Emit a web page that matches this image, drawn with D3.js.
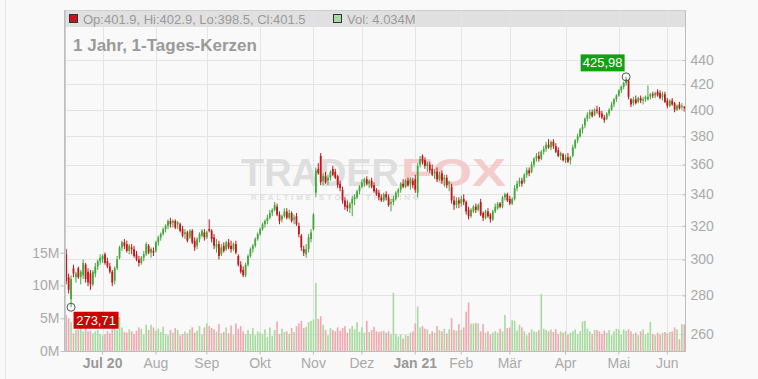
<!DOCTYPE html>
<html>
<head>
<meta charset="utf-8">
<script src="https://cdn.jsdelivr.net/npm/d3@7"></script>
<style>
  html, body { margin: 0; padding: 0; background: #f9f9f9; }
  svg { display: block; font-family: "Liberation Sans", Arial, Helvetica, sans-serif; }
</style>
</head>
<body>
<svg id="chart" width="758" height="379"></svg>
<script>
// ---- Trading calendar (one candle per trading day) ----
const firstDay = "2020-06-10";
const lastDay = "2021-06-10";
const holidays = ["2020-07-03", "2020-11-26", "2020-12-25", "2021-01-01", "2021-01-18", "2021-05-31"];

// ---- Axis labels ----
const monthLabels = ["Jul 20", "Aug", "Sep", "Okt", "Nov", "Dez", "Jan 21", "Feb", "Mär", "Apr", "Mai", "Jun"];
const yearLabels = ["Jul 20", "Jan 21"];
const priceTicks = [260, 280, 300, 320, 340, 360, 380, 400, 420, 440];
const volumeTicks = [0, 5, 10, 15];

// ---- Daily candles ----
const open = [
  303,290,278,295,290,295,290,291,297,293,292,286,292,296,299,
  300,303,299,296,293,288,295,301,307,310,309,305,307,306,303,300,298,301,303,308,304,305,
  305,310,313,315,318,320,323,322,323,321,321,318,315,316,313,317,311,308,312,314,316,
  313,318,317,313,307,309,303,308,306,310,308,306,309,302,297,294,291,297,302,306,308,312,
  315,318,321,323,325,328,330,332,327,324,326,329,325,328,324,326,320,314,306,303,306,312,
  318,341,357,366,349,352,349,351,357,355,352,347,343,336,333,331,334,337,338,342,
  345,348,350,347,349,346,343,341,338,336,340,338,334,335,337,341,343,347,345,349,347,349,
  350,341,360,366,363,359,360,357,354,355,350,354,350,351,347,345,336,333,336,
  334,337,335,330,326,329,332,330,335,328,325,329,327,324,329,331,334,332,338,340,
  337,334,337,344,347,349,348,353,356,355,360,364,366,364,369,371,374,372,376,373,370,366,367,
  363,365,363,366,372,377,380,385,388,393,396,398,396,400,399,397,394,393,397,400,404,408,
  411,415,418,421,423,408,405,408,406,409,407,408,408,410,412,411,414,413,410,412,
  407,403,407,405,400,404,402,401.9
];
const high = [
  306,292,291,297,293,296,294,300,298,295,294,294,298,300,303,
  303,304,301,298,294,296,302,308,311,312,311,309,309,308,305,302,302,305,310,309,307,307,
  311,314,316,319,321,324,325,324,324,323,322,320,318,317,318,318,313,313,316,318,318,
  317,324,318,315,312,311,309,310,311,312,311,310,311,303,299,296,298,303,307,309,313,316,
  319,322,324,327,330,331,335,334,329,327,331,331,330,329,327,328,322,315,308,309,315,318,
  328,358,361,368,354,355,353,356,359,357,353,349,345,338,336,335,339,340,343,346,
  350,351,352,350,351,348,344,343,340,341,342,340,337,339,342,344,348,350,350,351,351,351,
  353,361,366,367,365,362,362,360,357,358,355,356,353,353,349,347,339,338,338,
  339,340,336,332,331,333,334,334,337,329,330,331,328,330,334,335,335,339,341,341,
  339,338,346,349,351,351,354,358,358,362,365,368,369,370,373,376,378,377,378,375,372,369,368,
  367,368,366,374,378,382,386,389,394,398,400,400,401,403,402,399,396,398,401,406,409,412,
  416,419,422,425.98,424,409,410,411,410,411,410,411,419,413,414,414,416,415,414,414,
  409,408,409,406,404,406,405,402.9
];
const low = [
  286,281,273.71,290,287,289,286,289,287,285,283,285,290,294,297,
  298,297,295,292,285,286,294,300,305,306,304,303,303,301,299,296,297,299,302,303,301,302,
  304,308,311,314,316,318,319,319,318,318,316,313,312,310,312,309,305,306,310,313,311,
  312,316,310,306,304,300,302,304,305,306,304,305,303,296,292,290,290,296,301,304,307,311,
  314,317,319,321,324,326,329,326,321,322,325,324,324,322,321,320,313,305,302,301,304,310,
  317,338,353,346,346,347,346,349,352,350,344,342,334,330,329,328,326,333,337,340,
  344,345,346,344,344,341,339,336,335,335,336,332,329,333,336,338,341,344,344,345,343,344,
  341,338,358,360,357,355,354,352,350,348,349,347,345,344,342,334,330,331,331,
  332,333,327,324,325,328,328,329,326,323,324,325,322,323,328,330,331,331,336,335,
  333,333,336,342,345,345,347,351,352,354,358,362,362,363,367,369,371,370,371,368,365,363,362,
  361,361,360,365,371,375,379,382,386,391,393,394,395,397,394,393,390,392,395,399,402,406,
  410,413,416,419,408,402,403,404,405,405,404,406,407,408,409,409,410,408,407,405,
  401,402,403,398,399,400,400,398.5
];
const close = [
  288,283,289,292,292,290,293,298,289,287,286,293,296,299,301,
  302,298,296,293,287,295,300,307,310,308,305,308,306,302,300,298,301,303,309,304,306,304,
  310,313,315,318,320,323,321,323,319,322,317,314,316,311,317,310,307,312,315,317,313,
  316,317,312,308,309,302,307,305,310,307,306,309,304,297,293,291,297,302,306,308,312,315,
  318,321,323,325,328,330,333,327,323,326,329,325,328,323,325,321,315,307,304,306,313,316,
  327,356,354,348,352,348,351,355,353,351,346,344,336,332,331,334,337,338,342,345,
  348,350,347,349,345,342,340,338,336,340,338,333,335,337,341,343,347,345,349,346,350,346,
  343,359,364,362,359,361,356,353,355,350,353,349,351,346,348,336,333,336,334,
  337,335,329,326,330,332,330,333,327,325,329,326,324,329,332,334,332,338,340,336,
  334,337,344,347,349,347,353,356,354,360,364,366,364,369,371,374,372,376,373,369,366,368,363,
  365,362,365,372,377,380,385,387,393,396,398,395,400,399,396,394,392,397,400,404,408,411,
  415,418,421,424,410,404,408,405,409,407,408,410,410,412,411,413,411,409,412,406,
  403,407,404,400,403,401,403,401.5
];
// Volume in millions of shares
const volume = [
  5.5,5.0,4.4,2.7,3.2,3.3,3.8,3.0,4.7,3.0,3.1,2.7,3.0,3.2,2.6,
  2.4,2.6,3.0,2.7,3.4,3.5,3.2,5.2,3.6,2.9,2.8,3.3,3.0,2.6,3.1,3.6,3.4,2.5,4.0,3.2,4.0,3.6,
  3.1,3.4,2.9,3.7,2.6,2.4,3.2,2.8,3.5,3.2,2.4,2.6,3.0,2.7,3.3,3.6,2.8,3.1,3.8,2.5,3.6,
  4.2,3.8,3.5,3.3,3.0,4.1,2.7,2.9,3.6,2.7,3.9,2.5,4.2,3.4,3.8,3.0,2.6,3.2,2.6,3.5,2.4,3.0,
  2.8,2.6,3.3,2.1,3.6,2.3,3.2,4.5,2.6,3.4,2.9,3.0,2.6,3.5,2.9,3.8,4.2,4.6,3.5,3.7,4.4,4.6,
  4.8,10.4,4.9,5.3,4.0,3.2,2.4,3.5,3.2,3.0,3.6,3.1,3.5,3.8,2.8,3.4,3.8,3.3,4.4,2.9,
  3.6,2.8,4.6,2.9,3.2,3.7,3.0,2.9,3.0,3.1,2.8,3.0,2.6,8.9,2.6,2.2,2.5,1.9,2.5,2.3,2.8,3.0,
  4.2,6.8,3.6,3.8,3.4,3.3,2.6,3.0,2.8,3.8,3.2,3.0,3.4,2.7,3.3,5.0,3.2,3.1,4.1,
  3.2,3.6,6.0,7.4,4.2,4.2,4.3,4.2,3.0,4.1,2.8,3.0,2.5,2.8,3.0,2.8,3.4,3.0,5.5,3.5,
  3.6,4.7,4.6,3.1,4.0,3.6,3.0,2.4,2.8,3.3,3.0,2.9,3.2,8.7,3.4,3.2,3.0,3.3,2.9,3.3,2.6,3.0,2.8,
  3.0,2.5,2.8,3.0,3.3,2.6,3.0,4.5,4.6,3.4,3.0,2.6,3.2,3.2,3.0,2.6,3.1,2.8,3.2,2.4,3.0,3.4,
  3.3,2.5,3.3,3.1,3.3,3.0,2.6,2.8,2.4,3.0,3.3,2.5,2.8,4.4,2.6,2.4,2.8,2.5,2.8,2.9,
  2.7,2.9,3.0,3.6,3.3,1.8,4.1,4.034
];

// ---- Build the trading-day list ----
const holidaySet = new Set(holidays);
const dates = [];
for (let t = Date.parse(firstDay + "T00:00:00Z"); t <= Date.parse(lastDay + "T00:00:00Z"); t += 86400000) {
  const d = new Date(t);
  const wd = d.getUTCDay();
  if (wd !== 0 && wd !== 6 && !holidaySet.has(d.toISOString().slice(0, 10))) dates.push(d);
}
const n = Math.min(dates.length, close.length);
const idx = d3.range(n);
const monthStarts = idx.filter(i => i > 0 && dates[i].getUTCMonth() !== dates[i - 1].getUTCMonth());

// ---- Layout ----
const plot = { left: 65, right: 685.5, top: 10, bottom: 351, headerBottom: 27 };
const colors = {
  up: "#45a83a", down: "#c3161c",
  volUp: "#a6da9e", volDown: "#f2a6b0",
  grid: "#e4e4e4", axis: "#bdbdbd", text: "#aaaaaa", textStrong: "#9a9a9a"
};

const svg = d3.select("#chart");

const x = d3.scaleBand().domain(idx).range([plot.left, plot.right]).paddingInner(0).paddingOuter(0);
const cx = i => x(i) + x.bandwidth() / 2;
const yPrice = d3.scaleLog().domain([260, 440]).range([334, 60]);
const yVol = d3.scaleLinear().domain([0, 15]).range([plot.bottom, 252.7]);

// page frame
svg.append("rect").attr("width", 758).attr("height", 379).attr("fill", "#f9f9f9");
svg.append("line").attr("x1", 5.5).attr("x2", 5.5).attr("y1", 0).attr("y2", 379)
  .attr("stroke", "#e3e3e3");

// header band with OHLC readout
svg.append("rect")
  .attr("x", plot.left).attr("y", plot.top)
  .attr("width", plot.right - plot.left).attr("height", plot.headerBottom - plot.top)
  .attr("fill", "#e0e0e0");

// grid
const grid = svg.append("g");
grid.selectAll("line.h").data(priceTicks).join("line")
  .attr("x1", plot.left).attr("x2", plot.right)
  .attr("y1", d => Math.round(yPrice(d)) + 0.5).attr("y2", d => Math.round(yPrice(d)) + 0.5)
  .attr("stroke", colors.grid);
grid.selectAll("line.v").data(monthStarts).join("line")
  .attr("x1", d => Math.round(cx(d)) + 0.5).attr("x2", d => Math.round(cx(d)) + 0.5)
  .attr("y1", plot.top).attr("y2", plot.bottom)
  .attr("stroke", colors.grid);

// watermark
const wm = svg.append("g").attr("font-weight", "bold");
wm.append("text").attr("x", 241).attr("y", 186).attr("font-size", 38)
  .attr("textLength", 158).attr("lengthAdjust", "spacingAndGlyphs")
  .attr("fill", "#dedede").text("TRADER");
wm.append("text").attr("x", 401).attr("y", 186).attr("font-size", 38)
  .attr("textLength", 105).attr("lengthAdjust", "spacingAndGlyphs")
  .attr("fill", "#f4cccc").text("FOX");
wm.append("text").attr("x", 251).attr("y", 200).attr("font-size", 8)
  .attr("textLength", 168).attr("lengthAdjust", "spacing")
  .attr("fill", "#dfdfdf").text("REALTIME STOCK TRADING");

// volume bars
const up = i => close[i] >= open[i];
const barW = 1.6;
svg.append("g").selectAll("rect").data(idx).join("rect")
  .attr("x", i => cx(i) - barW / 2)
  .attr("y", i => yVol(volume[i]))
  .attr("width", barW)
  .attr("height", i => plot.bottom - yVol(volume[i]))
  .attr("fill", i => up(i) ? colors.volUp : colors.volDown);

// candles
const bodyW = 1.8;
const candles = svg.append("g").selectAll("g").data(idx).join("g");
candles.append("line")
  .attr("x1", cx).attr("x2", cx)
  .attr("y1", i => yPrice(high[i])).attr("y2", i => yPrice(low[i]))
  .attr("stroke", i => up(i) ? colors.up : colors.down).attr("stroke-width", 1);
candles.append("rect")
  .attr("x", i => cx(i) - bodyW / 2)
  .attr("y", i => yPrice(Math.max(open[i], close[i])))
  .attr("width", bodyW)
  .attr("height", i => Math.max(1, yPrice(Math.min(open[i], close[i])) - yPrice(Math.max(open[i], close[i]))))
  .attr("fill", i => up(i) ? colors.up : colors.down);

// plot border
svg.append("rect")
  .attr("x", plot.left + 0.5).attr("y", plot.top + 0.5)
  .attr("width", plot.right - plot.left - 0.5).attr("height", plot.bottom - plot.top)
  .attr("fill", "none").attr("stroke", "#cfcfcf");
svg.append("line").attr("x1", plot.left - 0.5).attr("x2", plot.left - 0.5)
  .attr("y1", plot.top).attr("y2", plot.bottom).attr("stroke", colors.axis);
svg.append("line").attr("x1", plot.right).attr("x2", plot.right)
  .attr("y1", plot.top).attr("y2", plot.bottom + 0.5).attr("stroke", colors.axis);
svg.append("line").attr("x1", plot.left - 0.5).attr("x2", plot.right)
  .attr("y1", plot.bottom + 0.5).attr("y2", plot.bottom + 0.5).attr("stroke", colors.axis);

function styleAxis(g) {
  g.select(".domain").remove();
  g.selectAll(".tick line").attr("stroke", colors.axis);
  g.selectAll(".tick text").attr("fill", colors.text).attr("font-size", 14)
    .attr("font-family", "'Liberation Sans', Arial, sans-serif");
}

// right price axis
svg.append("g").attr("transform", `translate(${plot.right},0)`)
  .call(d3.axisRight(yPrice).tickValues(priceTicks).tickFormat(d3.format("d"))
    .tickSizeInner(-3).tickSizeOuter(0).tickPadding(5))
  .call(styleAxis);

// left volume axis
svg.append("g").attr("transform", `translate(${plot.left - 0.5},0)`)
  .call(d3.axisLeft(yVol).tickValues(volumeTicks).tickFormat(d => d + "M")
    .tickSize(4).tickPadding(1))
  .call(styleAxis);

// bottom month axis
const xAxisG = svg.append("g").attr("transform", `translate(0,${plot.bottom + 0.5})`)
  .call(d3.axisBottom(x).tickValues(monthStarts).tickFormat((d, k) => monthLabels[k])
    .tickSize(3).tickPadding(4))
  .call(styleAxis);
xAxisG.selectAll(".tick text")
  .attr("font-weight", d => yearLabels.includes(monthLabels[monthStarts.indexOf(d)]) ? "bold" : "normal")
  .attr("fill", d => yearLabels.includes(monthLabels[monthStarts.indexOf(d)]) ? colors.textStrong : colors.text);

// OHLC / volume readout for the last session
const last = n - 1;
const legend = svg.append("g").attr("font-size", 13).attr("fill", "#9a9a9a");
legend.append("rect").attr("x", 69.5).attr("y", 14.5).attr("width", 8).attr("height", 8)
  .attr("fill", up(last) ? colors.up : colors.down).attr("stroke", "#333");
legend.append("text").attr("x", 83).attr("y", 23.5)
  .text(`Op:${open[last]}, Hi:${high[last]}, Lo:${low[last]}, Cl:${close[last]}`);
legend.append("rect").attr("x", 333.5).attr("y", 14.5).attr("width", 8).attr("height", 8)
  .attr("fill", colors.volUp).attr("stroke", "#333");
legend.append("text").attr("x", 347).attr("y", 23.5)
  .text(`Vol: ${volume[last].toFixed(3)}M`);

// title
svg.append("text").attr("x", 73).attr("y", 51)
  .attr("font-size", 17).attr("font-weight", "bold").attr("fill", "#9a9a9a")
  .text("1 Jahr, 1-Tages-Kerzen");

// high / low markers
const fmtDe = v => v.toFixed(2).replace(".", ",");
const hiI = d3.maxIndex(high.slice(0, n));
const loI = d3.minIndex(low.slice(0, n));
const marks = svg.append("g");

const hx = cx(hiI), hy = yPrice(high[hiI]);
marks.append("rect").attr("x", hx - 45.5).attr("y", hy - 22.5).attr("width", 44).attr("height", 17)
  .attr("fill", "#14a014");
marks.append("text").attr("x", hx - 23.5).attr("y", hy - 9.5).attr("text-anchor", "middle")
  .attr("font-size", 13).attr("fill", "#ffffff").text(fmtDe(high[hiI]));
marks.append("circle").attr("cx", hx).attr("cy", hy).attr("r", 4)
  .attr("fill", "none").attr("stroke", "#555").attr("stroke-width", 1);

const lx = cx(loI), ly = yPrice(low[loI]);
marks.append("rect").attr("x", lx + 2.5).attr("y", ly + 4.5).attr("width", 45).attr("height", 17)
  .attr("fill", "#cc0000");
marks.append("text").attr("x", lx + 25).attr("y", ly + 17.5).attr("text-anchor", "middle")
  .attr("font-size", 13).attr("fill", "#ffffff").text(fmtDe(low[loI]));
marks.append("circle").attr("cx", lx).attr("cy", ly).attr("r", 4)
  .attr("fill", "none").attr("stroke", "#555").attr("stroke-width", 1);
</script>
</body>
</html>
